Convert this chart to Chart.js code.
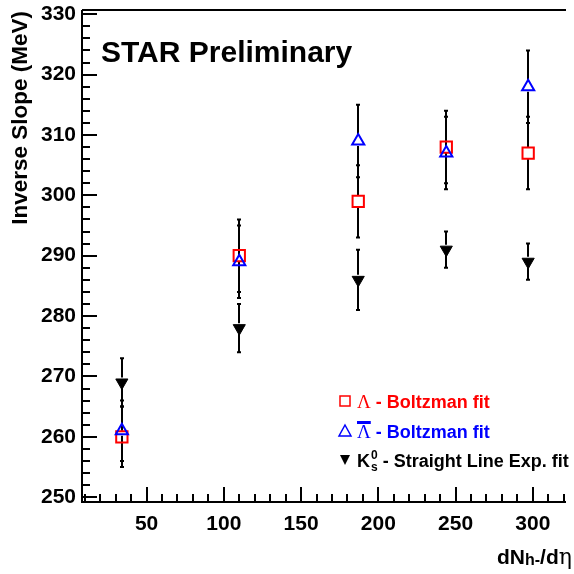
<!DOCTYPE html>
<html>
<head>
<meta charset="utf-8">
<script src="https://cdn.jsdelivr.net/npm/chart.js@4.4.1/dist/chart.umd.min.js"></script>
<style>
  html, body { margin: 0; padding: 0; background: #fff; overflow: hidden; }
</style>
</head>
<body>
<canvas id="slopeChart" width="574" height="574"></canvas>
<script>
  // dN(h-)/deta bins
  const multiplicity = [34, 110, 187, 244, 297];

  // Lambda, Boltzmann fit (MeV)
  const lambdaSlope = [260, 290, 299, 308, 307];
  const lambdaErr = [5, 6, 6, 6, 6];

  // anti-Lambda, Boltzmann fit (MeV)
  const antiLambdaSlope = [261, 289, 309, 307, 318];
  const antiLambdaErr = [5, 6, 6, 6, 6];

  // K0s, straight line exp. fit (MeV)
  const k0sSlope = [269, 278, 286, 291, 289];
  const k0sErr = [4, 4, 5, 3, 3];

  const yTickLabels = [250, 260, 270, 280, 290, 300, 310, 320, 330];
  const xTickLabels = [50, 100, 150, 200, 250, 300];

  const FONT = "'Liberation Sans', Arial, Helvetica, sans-serif";
  const RED = "#ff0000";
  const BLUE = "#0000ff";

  function points(ys) {
    return multiplicity.map((x, i) => ({ x, y: ys[i] }));
  }

  // error bars, ROOT style: gap where the marker sits, tiny end caps
  const errorBars = {
    id: "errorBars",
    beforeDatasetsDraw(chart) {
      const { ctx, scales: { x, y } } = chart;
      const sets = [
        { vals: lambdaSlope, errs: lambdaErr, gap: 6 },
        { vals: antiLambdaSlope, errs: antiLambdaErr, gap: 5 },
        { vals: k0sSlope, errs: k0sErr, gap: 5 },
      ];
      ctx.save();
      ctx.strokeStyle = "#000";
      ctx.lineWidth = 2;
      sets.forEach((s) => {
        s.vals.forEach((v, i) => {
          const px = Math.round(x.getPixelForValue(multiplicity[i]));
          const py = y.getPixelForValue(v);
          const top = y.getPixelForValue(v + s.errs[i]);
          const bot = y.getPixelForValue(v - s.errs[i]);
          ctx.beginPath();
          ctx.moveTo(px, top);
          ctx.lineTo(px, py - s.gap);
          ctx.moveTo(px, py + s.gap);
          ctx.lineTo(px, bot);
          ctx.moveTo(px - 2, top);
          ctx.lineTo(px + 2, top);
          ctx.moveTo(px - 2, bot);
          ctx.lineTo(px + 2, bot);
          ctx.stroke();
        });
      });
      ctx.restore();
    }
  };

  function drawAxes(chart) {
    const { ctx, chartArea: a, scales: { x, y } } = chart;
    ctx.save();
    ctx.strokeStyle = "#000";
    ctx.lineWidth = 2;
    ctx.beginPath();
    ctx.moveTo(a.left, a.top);
    ctx.lineTo(a.right + 2, a.top);
    ctx.moveTo(a.left, a.top);
    ctx.lineTo(a.left, a.bottom);
    ctx.lineTo(a.right + 2, a.bottom);
    ctx.stroke();

    // y ticks pointing inward, minor every 2 MeV
    ctx.beginPath();
    for (let v = 250; v <= 330; v += 2) {
      const py = Math.round(y.getPixelForValue(v));
      const len = v % 10 === 0 ? 15 : 8;
      ctx.moveTo(a.left, py);
      ctx.lineTo(a.left + len, py);
    }
    // x ticks, minor every 10
    for (let v = 10; v <= 320; v += 10) {
      const px = Math.round(x.getPixelForValue(v));
      const len = v % 50 === 0 ? 15 : 8;
      ctx.moveTo(px, a.bottom);
      ctx.lineTo(px, a.bottom - len);
    }
    ctx.stroke();
    ctx.restore();
  }

  function drawTexts(chart) {
    const { ctx } = chart;
    ctx.save();
    ctx.fillStyle = "#000";
    ctx.textBaseline = "alphabetic";

    // plot label
    ctx.font = `bold 30px ${FONT}`;
    ctx.textAlign = "left";
    ctx.fillText("STAR Preliminary", 101, 62);

    // y title
    ctx.save();
    ctx.translate(27, 11);
    ctx.rotate(-Math.PI / 2);
    ctx.textAlign = "right";
    ctx.font = `bold 22.5px ${FONT}`;
    ctx.fillText("Inverse Slope (MeV)", 0, 0);
    ctx.restore();

    // x title: dN_{h-}/d eta
    let tx = 497;
    const ty = 564;
    ctx.textAlign = "left";
    ctx.font = `bold 21px ${FONT}`;
    ctx.fillText("dN", tx, ty);
    tx += ctx.measureText("dN").width;
    ctx.font = `bold 16px ${FONT}`;
    ctx.fillText("h-", tx, ty + 1);
    tx += ctx.measureText("h-").width;
    ctx.font = `bold 21px ${FONT}`;
    ctx.fillText("/d", tx, ty);
    tx += ctx.measureText("/d").width;
    ctx.font = `22px 'DejaVu Serif', serif`;
    ctx.fillText("\u03b7", tx, ty);

    // legend
    const lx = 345;
    const textX = 357;
    const rows = [401, 431, 460];
    const bold = `bold 18px ${FONT}`;
    const greek = `19px 'Liberation Serif', serif`;

    // row 1: Lambda
    ctx.strokeStyle = RED;
    ctx.lineWidth = 1.5;
    ctx.strokeRect(lx - 5, rows[0] - 5, 10, 10);
    ctx.fillStyle = RED;
    ctx.font = greek;
    ctx.fillText("\u039b", textX, rows[0] + 7);
    let w = ctx.measureText("\u039b").width;
    ctx.font = bold;
    ctx.fillText(" - Boltzman fit", textX + w, rows[0] + 7);

    // row 2: anti-Lambda
    ctx.strokeStyle = BLUE;
    ctx.beginPath();
    ctx.moveTo(lx, rows[1] - 6);
    ctx.lineTo(lx + 6, rows[1] + 5);
    ctx.lineTo(lx - 6, rows[1] + 5);
    ctx.closePath();
    ctx.stroke();
    ctx.fillStyle = BLUE;
    ctx.font = greek;
    ctx.fillText("\u039b", textX, rows[1] + 7);
    w = ctx.measureText("\u039b").width;
    ctx.fillRect(textX, rows[1] - 10, w, 3);
    ctx.font = bold;
    ctx.fillText(" - Boltzman fit", textX + w, rows[1] + 7);

    // row 3: K0s
    ctx.fillStyle = "#000";
    ctx.beginPath();
    ctx.moveTo(lx - 5, rows[2] - 5);
    ctx.lineTo(lx + 5, rows[2] - 5);
    ctx.lineTo(lx, rows[2] + 5);
    ctx.closePath();
    ctx.fill();
    ctx.font = bold;
    ctx.fillText("K", textX, rows[2] + 7);
    let kx = textX + ctx.measureText("K").width + 1;
    ctx.font = `bold 12px ${FONT}`;
    ctx.fillText("0", kx, rows[2] - 1);
    ctx.fillText("s", kx, rows[2] + 11);
    kx += ctx.measureText("0").width;
    ctx.font = bold;
    ctx.fillText(" - Straight Line Exp. fit", kx, rows[2] + 7);

    ctx.restore();
  }

  const rootFrame = {
    id: "rootFrame",
    afterDraw(chart) {
      drawAxes(chart);
      drawTexts(chart);
    }
  };

  function fixedTicks(values) {
    return (scale) => { scale.ticks = values.map((v) => ({ value: v })); };
  }

  new Chart(document.getElementById("slopeChart"), {
    type: "scatter",
    data: {
      datasets: [
        {
          label: "Lambda",
          data: points(lambdaSlope),
          pointStyle: "rect",
          pointRadius: 8,
          pointBorderWidth: 2,
          pointBorderColor: RED,
          pointBackgroundColor: "rgba(0,0,0,0)",
          order: 3
        },
        {
          label: "anti-Lambda",
          data: points(antiLambdaSlope),
          pointStyle: "triangle",
          pointRadius: 7,
          pointBorderWidth: 2,
          pointBorderColor: BLUE,
          pointBackgroundColor: "rgba(0,0,0,0)",
          order: 2
        },
        {
          label: "K0s",
          data: points(k0sSlope),
          pointStyle: "triangle",
          pointRotation: 180,
          pointRadius: 7,
          pointBorderWidth: 1,
          pointBorderColor: "#000",
          pointBackgroundColor: "#000",
          order: 1
        }
      ]
    },
    options: {
      responsive: false,
      animation: false,
      devicePixelRatio: 1,
      layout: { padding: { top: 9, right: 0, left: 0, bottom: 0 } },
      plugins: {
        legend: { display: false },
        tooltip: { enabled: false }
      },
      scales: {
        x: {
          type: "linear",
          min: 8.2,
          max: 320.2,
          grid: { display: false, drawTicks: false },
          border: { display: false },
          afterBuildTicks: fixedTicks(xTickLabels),
          afterFit: (s) => { s.height = 72; s.paddingLeft = 0; s.paddingRight = 0; },
          ticks: {
            autoSkip: false,
            maxRotation: 0,
            padding: 10,
            color: "#000",
            font: { family: FONT, size: 21, weight: "bold" }
          }
        },
        y: {
          type: "linear",
          min: 249.2,
          max: 330.7,
          grid: { display: false, drawTicks: false },
          border: { display: false },
          afterBuildTicks: fixedTicks(yTickLabels),
          afterFit: (s) => { s.width = 82; s.paddingTop = 0; s.paddingBottom = 0; },
          ticks: {
            autoSkip: false,
            padding: 6,
            color: "#000",
            font: { family: FONT, size: 21, weight: "bold" }
          }
        }
      }
    },
    plugins: [errorBars, rootFrame]
  });
</script>
</body>
</html>
